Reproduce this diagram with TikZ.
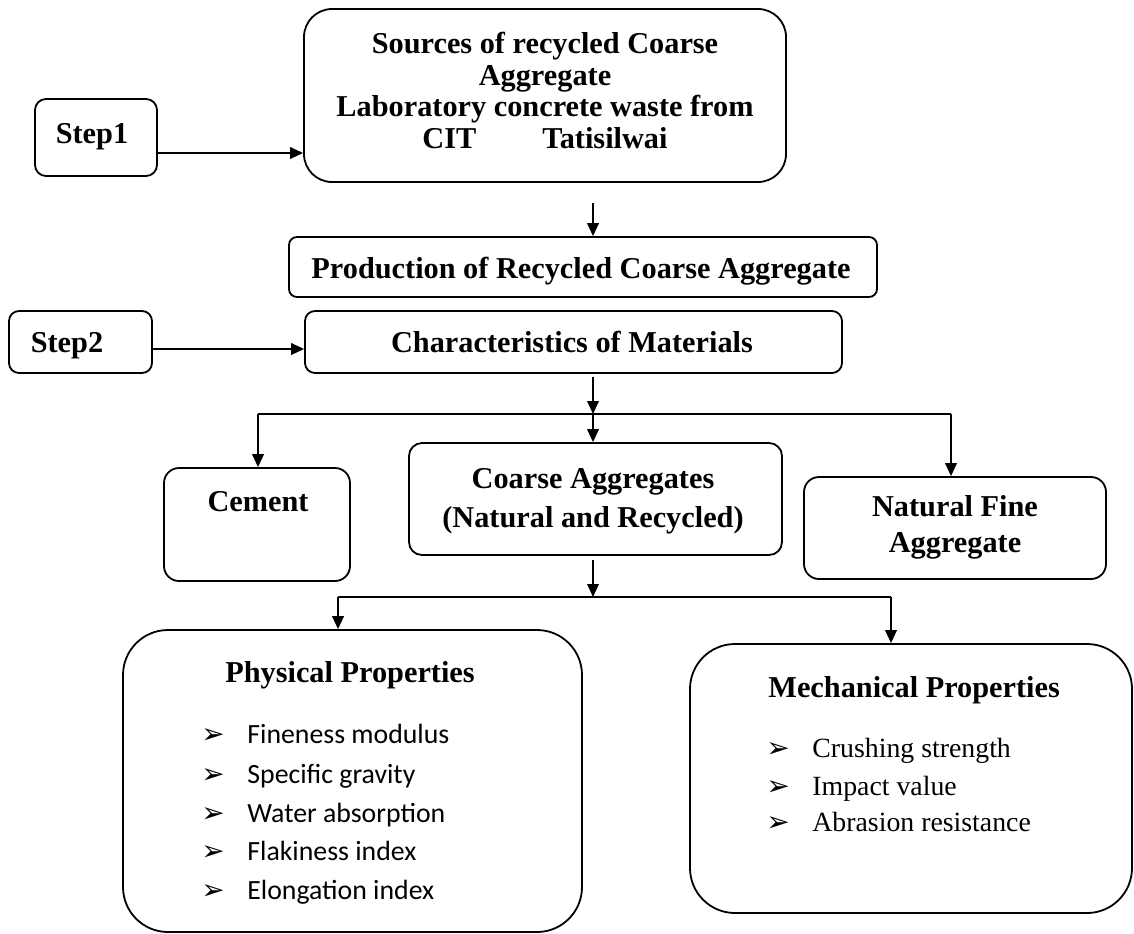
\documentclass[tikz,border=0pt]{standalone}
\usepackage{fontspec}
\setmainfont{Liberation Serif}
\newfontfamily\calib{Carlito}
\newfontfamily\dejavu{DejaVu Sans}
\usetikzlibrary{arrows.meta,calc}
\tikzset{
 box/.style={draw, line width=0.9pt, inner sep=0pt},
 arr/.style={line width=0.9pt, -{Triangle[length=6.5pt,width=5.8pt]}},
 ln/.style={line width=0.9pt},
 bt/.style={font=\bfseries\fontsize{15.15}{16}\selectfont, anchor=base, inner sep=0pt},
 btl/.style={font=\bfseries\fontsize{15.15}{16}\selectfont, anchor=base west, inner sep=0pt},
 ct/.style={font=\calib\fontsize{13.9}{15}\selectfont, anchor=base west, inner sep=0pt},
 tt/.style={font=\fontsize{13.9}{15}\selectfont, anchor=base west, inner sep=0pt},
 bul/.style={font=\dejavu\fontsize{14}{16}\selectfont, anchor=base west, inner sep=0pt},
}
\begin{document}
\begin{tikzpicture}[x=0.5pt,y=-0.5pt]
\useasboundingbox (0,0) rectangle (1134,933);
% boxes
\node[box, rounded corners=5.5pt, minimum width=61pt, minimum height=38.5pt] (step1) at (96,137.5) {};
\node[box, rounded corners=14pt, minimum width=241pt, minimum height=86.5pt] (source) at (545,95.5) {};
\node[box, rounded corners=4pt, minimum width=294pt, minimum height=30pt] (prod) at (583,267) {};
\node[box, rounded corners=5pt, minimum width=71.5pt, minimum height=31pt] (step2) at (80.5,342) {};
\node[box, rounded corners=5pt, minimum width=268.5pt, minimum height=31pt] (char) at (573.5,342) {};
\node[box, rounded corners=7.5pt, minimum width=93pt, minimum height=56.5pt] (cement) at (257,524.5) {};
\node[box, rounded corners=6.5pt, minimum width=186.5pt, minimum height=56pt] (coarse) at (595.5,499) {};
\node[box, rounded corners=7.5pt, minimum width=151pt, minimum height=51pt] (nfa) at (955,528) {};
\node[box, rounded corners=22.5pt, minimum width=229.5pt, minimum height=151pt] (phys) at (352.5,781) {};
\node[box, rounded corners=22.5pt, minimum width=221pt, minimum height=134.5pt] (mech) at (911,778.5) {};
% texts
\node[bt] (t-step1) at (92,143) {Step1};
\node[bt] (t-src1) at (545,53) {Sources of recycled Coarse};
\node[bt] (t-src2) at (545,85) {Aggregate};
\node[bt] (t-src3) at (545,116) {Laboratory concrete waste from};
\node[bt] (t-src4) at (545,148) {CIT\hspace{33pt}Tatisilwai};
\node[bt] (t-prod) at (581,278) {Production of Recycled Coarse Aggregate};
\node[bt] (t-step2) at (67,352) {Step2};
\node[bt] (t-char) at (572,352) {Characteristics of Materials};
\node[bt] (t-cem) at (258,511) {Cement};
\node[bt] (t-co1) at (593,488) {Coarse Aggregates};
\node[bt] (t-co2) at (593,527) {(Natural and Recycled)};
\node[bt] (t-nfa1) at (955,516) {Natural Fine};
\node[bt] (t-nfa2) at (955,552) {Aggregate};
\node[bt] (t-phys) at (350,682) {Physical Properties};
\node[btl] (t-mech) at (768,697) {Mechanical Properties};
% physical list
\foreach \y/\t [count=\i] in {743/Fineness modulus,783/Specific gravity,822/Water absorption,860/Flakiness index,899/Elongation index}{
  \node[bul] (pb\i) at (201,\y) {➢};
  \node[ct] (pt\i) at (247,\y) {\t};
}
% mechanical list
\foreach \y/\t [count=\i] in {757/Crushing strength,795/Impact value,831/Abrasion resistance}{
  \node[bul] (mb\i) at (766,\y) {➢};
  \node[tt] (mt\i) at (812,\y) {\t};
}
% connectors
\coordinate (a1) at (0,153);
\draw[arr] (step1.east |- a1) -- (source.west |- a1);
\coordinate (p1) at (593,203);
\draw[arr] (p1) -- (p1 |- prod.north);
\coordinate (a2) at (0,349);
\draw[arr] (step2.east |- a2) -- (char.west |- a2);
\coordinate (s1top) at (593,377);
\coordinate (s1) at (593,414);
\coordinate (s1l) at (258,414);
\coordinate (s1r) at (951,414);
\draw[arr] (s1top) -- (s1);
\draw[ln] (s1l) -- (s1r);
\draw[arr] (s1) -- (s1 |- coarse.north);
\draw[arr] (s1l) -- (s1l |- cement.north);
\draw[arr] (s1r) -- (s1r |- nfa.north);
\coordinate (s2top) at (593,560);
\coordinate (s2) at (593,597);
\coordinate (s2l) at (338,597);
\coordinate (s2r) at (891,597);
\draw[arr] (s2top) -- (s2);
\draw[ln] (s2l) -- (s2r);
\draw[arr] (s2l) -- (s2l |- phys.north);
\draw[arr] (s2r) -- (s2r |- mech.north);
\end{tikzpicture}
\end{document}
